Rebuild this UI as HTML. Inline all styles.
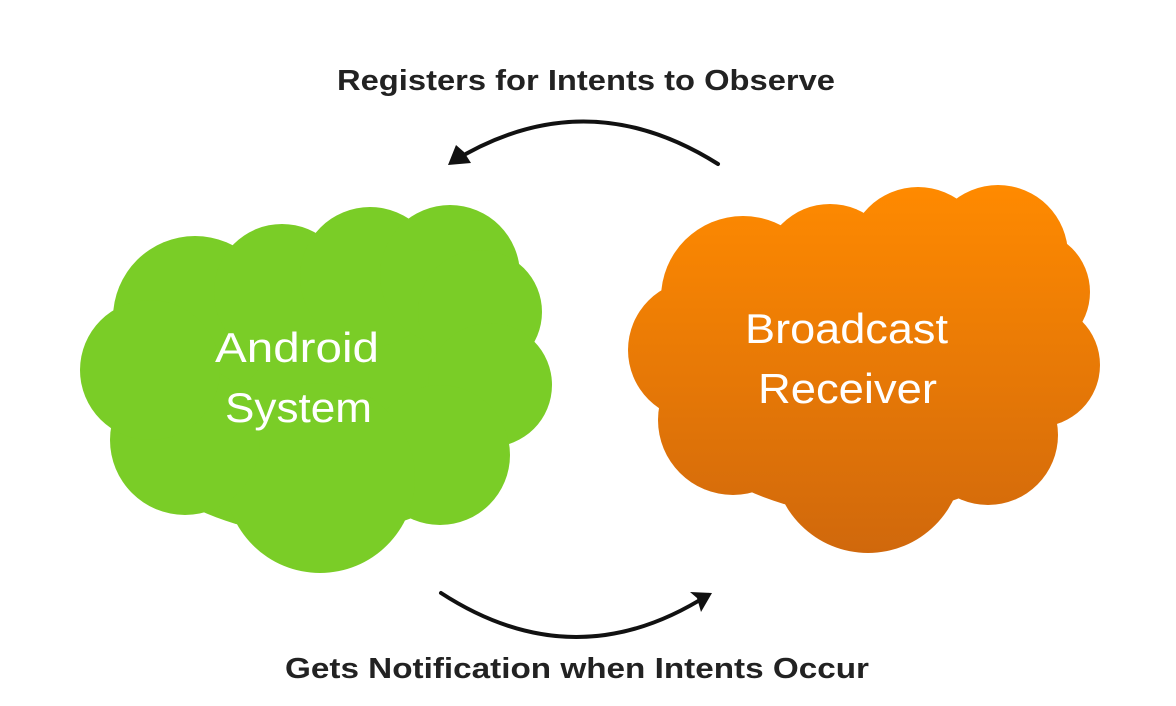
<!DOCTYPE html>
<html><head><meta charset="utf-8"><style>
html,body{margin:0;padding:0;background:#fff;}
svg{display:block;}
</style></head><body>
<svg width="1176" height="706" viewBox="0 0 1176 706" xmlns="http://www.w3.org/2000/svg">
<defs>
<linearGradient id="og" gradientUnits="userSpaceOnUse" x1="0" y1="205" x2="0" y2="575">
<stop offset="0" stop-color="#ff8a00"/>
<stop offset="1" stop-color="#d0680c"/>
</linearGradient>
</defs>
<g fill="#7acd27">
<ellipse cx="315" cy="385" rx="210" ry="150"/>
<circle cx="195" cy="318" r="82"/>
<circle cx="282" cy="292" r="68"/>
<circle cx="370" cy="277" r="70"/>
<circle cx="450" cy="275" r="70"/>
<circle cx="480" cy="312" r="62"/>
<circle cx="490" cy="385" r="62"/>
<circle cx="440" cy="455" r="70"/>
<circle cx="320" cy="478" r="95"/>
<circle cx="185" cy="440" r="75"/>
<circle cx="150" cy="370" r="70"/>
</g>
<g fill="url(#og)" transform="translate(548,-20)">
<ellipse cx="315" cy="385" rx="210" ry="150"/>
<circle cx="195" cy="318" r="82"/>
<circle cx="282" cy="292" r="68"/>
<circle cx="370" cy="277" r="70"/>
<circle cx="450" cy="275" r="70"/>
<circle cx="480" cy="312" r="62"/>
<circle cx="490" cy="385" r="62"/>
<circle cx="440" cy="455" r="70"/>
<circle cx="320" cy="478" r="95"/>
<circle cx="185" cy="440" r="75"/>
<circle cx="150" cy="370" r="70"/>
</g>
<g font-family="Liberation Sans, sans-serif" fill="#fff" font-size="42">
<text x="215" y="362" textLength="164" lengthAdjust="spacingAndGlyphs">Android</text>
<text x="225" y="422" textLength="147" lengthAdjust="spacingAndGlyphs">System</text>
<text x="745" y="343" textLength="203" lengthAdjust="spacingAndGlyphs">Broadcast</text>
<text x="758" y="403" textLength="179" lengthAdjust="spacingAndGlyphs">Receiver</text>
</g>
<g font-family="Liberation Sans, sans-serif" font-weight="bold" fill="#222" font-size="29">
<text x="337" y="90" textLength="498" lengthAdjust="spacingAndGlyphs">Registers for Intents to Observe</text>
<text x="285" y="678" textLength="584" lengthAdjust="spacingAndGlyphs">Gets Notification when Intents Occur</text>
</g>
<g fill="none" stroke="#111" stroke-width="4" stroke-linecap="round">
<path d="M718,164 Q585,80 452,162"/>
<path d="M441,593 Q575,680 708,595"/>
</g>
<g fill="#111">
<polygon points="448,165 456,145 464,152 471,163"/>
<polygon points="712,593 690,592 697,598 701,612"/>
</g>
</svg>
</body></html>
